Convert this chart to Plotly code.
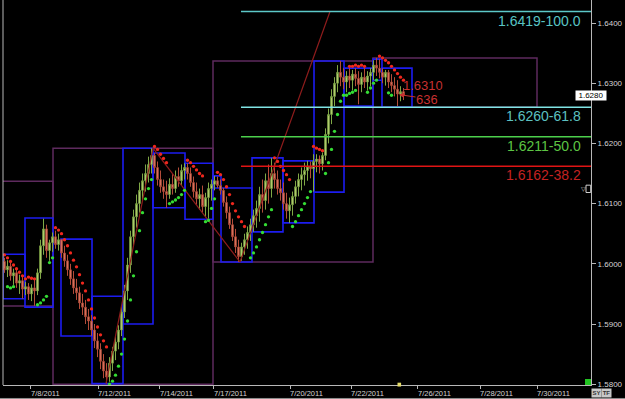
import plotly.graph_objects as go

# ---------------- data ----------------
opens = [1.6000,1.6004,1.5990,1.5996,1.5980,1.5985,1.5968,1.5972,1.5958,1.5962,
         1.5950,1.5960,1.5955,1.5985,1.6030,1.6058,1.6022,1.6035,1.6045,1.6032,
         1.6040,1.6018,1.6005,1.5990,1.5975,1.5960,1.5952,1.5935,1.5928,1.5912,
         1.5905,1.5890,1.5872,1.5858,1.5838,1.5822,1.5812,1.5835,1.5855,1.5870,
         1.5890,1.5920,1.5955,1.5998,1.6045,1.6078,1.6100,1.6122,1.6138,1.6150,
         1.6165,1.6180,1.6160,1.6140,1.6128,1.6120,1.6115,1.6132,1.6125,1.6145,
         1.6138,1.6155,1.6160,1.6150,1.6135,1.6120,1.6108,1.6115,1.6095,1.6110,
         1.6125,1.6132,1.6138,1.6130,1.6122,1.6102,1.6085,1.6065,1.6045,1.6028,
         1.6012,1.6028,1.6040,1.6052,1.6065,1.6080,1.6092,1.6115,1.6105,1.6138,
         1.6125,1.6150,1.6140,1.6125,1.6118,1.6100,1.6088,1.6098,1.6112,1.6128,
         1.6140,1.6148,1.6155,1.6162,1.6158,1.6170,1.6174,1.6166,1.6180,1.6215,
         1.6248,1.6278,1.6300,1.6318,1.6310,1.6302,1.6312,1.6305,1.6315,1.6308,
         1.6298,1.6310,1.6302,1.6312,1.6318,1.6330,1.6325,1.6318,1.6310,1.6318,
         1.6302,1.6296,1.6290,1.6282,1.6286]
highs = [1.6016,1.6010,1.6006,1.6002,1.5992,1.5990,1.5982,1.5978,1.5970,1.5968,
         1.5966,1.5975,1.5992,1.6040,1.6075,1.6065,1.6040,1.6052,1.6055,1.6050,
         1.6041,1.6030,1.6015,1.6000,1.5988,1.5975,1.5962,1.5950,1.5940,1.5925,
         1.5915,1.5900,1.5885,1.5868,1.5850,1.5835,1.5845,1.5862,1.5880,1.5898,
         1.5930,1.5965,1.6010,1.6055,1.6090,1.6115,1.6135,1.6150,1.6165,1.6178,
         1.6192,1.6184,1.6170,1.6155,1.6140,1.6138,1.6142,1.6150,1.6155,1.6160,
         1.6165,1.6167,1.6167,1.6160,1.6145,1.6135,1.6125,1.6130,1.6118,1.6135,
         1.6140,1.6146,1.6145,1.6140,1.6126,1.6112,1.6095,1.6075,1.6058,1.6040,
         1.6035,1.6050,1.6062,1.6075,1.6090,1.6105,1.6128,1.6140,1.6150,1.6165,
         1.6176,1.6168,1.6155,1.6140,1.6135,1.6118,1.6110,1.6120,1.6138,1.6150,
         1.6160,1.6168,1.6171,1.6170,1.6182,1.6182,1.6180,1.6185,1.6225,1.6258,
         1.6290,1.6310,1.6330,1.6337,1.6325,1.6320,1.6325,1.6322,1.6325,1.6320,
         1.6318,1.6325,1.6320,1.6325,1.6338,1.6342,1.6340,1.6325,1.6322,1.6322,
         1.6315,1.6310,1.6305,1.6295,1.6292]
lows = [1.5992,1.5985,1.5978,1.5972,1.5965,1.5960,1.5950,1.5942,1.5948,1.5940,
        1.5938,1.5930,1.5948,1.5975,1.6015,1.6010,1.6005,1.6020,1.6025,1.6022,
        1.6010,1.5995,1.5980,1.5965,1.5950,1.5940,1.5925,1.5915,1.5900,1.5890,
        1.5880,1.5860,1.5845,1.5825,1.5810,1.5801,1.5804,1.5822,1.5840,1.5858,
        1.5880,1.5910,1.5940,1.5985,1.6030,1.6060,1.6085,1.6105,1.6120,1.6135,
        1.6150,1.6150,1.6130,1.6118,1.6108,1.6093,1.6108,1.6115,1.6118,1.6128,
        1.6130,1.6140,1.6140,1.6128,1.6110,1.6098,1.6090,1.6085,1.6078,1.6075,
        1.6105,1.6122,1.6126,1.6115,1.6095,1.6075,1.6058,1.6038,1.6018,1.6003,
        1.6005,1.6015,1.6025,1.6038,1.6053,1.6060,1.6070,1.6085,1.6090,1.6100,
        1.6110,1.6125,1.6115,1.6105,1.6090,1.6075,1.6068,1.6080,1.6100,1.6112,
        1.6122,1.6130,1.6138,1.6142,1.6120,1.6152,1.6150,1.6155,1.6172,1.6200,
        1.6232,1.6262,1.6285,1.6295,1.6290,1.6285,1.6292,1.6288,1.6295,1.6265,
        1.6285,1.6292,1.6288,1.6295,1.6305,1.6312,1.6308,1.6300,1.6296,1.6292,
        1.6285,1.6278,1.6262,1.6270,1.6272]
closes = [1.6004,1.5990,1.5996,1.5980,1.5985,1.5968,1.5972,1.5958,1.5962,1.5950,
          1.5960,1.5955,1.5985,1.6030,1.6058,1.6022,1.6035,1.6045,1.6032,1.6040,
          1.6018,1.6005,1.5990,1.5975,1.5960,1.5952,1.5935,1.5928,1.5912,1.5905,
          1.5890,1.5872,1.5858,1.5838,1.5822,1.5812,1.5835,1.5855,1.5870,1.5890,
          1.5920,1.5955,1.5998,1.6045,1.6078,1.6100,1.6122,1.6138,1.6150,1.6165,
          1.6180,1.6160,1.6140,1.6128,1.6120,1.6115,1.6132,1.6125,1.6145,1.6138,
          1.6155,1.6160,1.6150,1.6135,1.6120,1.6108,1.6115,1.6095,1.6110,1.6125,
          1.6132,1.6138,1.6130,1.6122,1.6102,1.6085,1.6065,1.6045,1.6028,1.6012,
          1.6028,1.6040,1.6052,1.6065,1.6080,1.6092,1.6115,1.6105,1.6138,1.6125,
          1.6150,1.6140,1.6125,1.6118,1.6100,1.6088,1.6098,1.6112,1.6128,1.6140,
          1.6148,1.6155,1.6162,1.6158,1.6170,1.6174,1.6166,1.6180,1.6215,1.6248,
          1.6278,1.6300,1.6318,1.6310,1.6302,1.6312,1.6305,1.6315,1.6308,1.6298,
          1.6310,1.6302,1.6312,1.6318,1.6330,1.6325,1.6318,1.6310,1.6318,1.6302,
          1.6296,1.6290,1.6282,1.6286,1.6280]

# trailing-stop dots (bar index, price)
red_idx = [1,2,3,4,5,6,7,8, 9,10,11,
           18,19,20,21,22,23,24,25,26,27,28,29,30,31,32,33,34,35,
           51,52,53,54,55, 62,63,64,65,66,67,
           72,73,74,75,76,77,78,79,80,81, 91,92,93,94,95,96,
           104,105,106,107, 116,117,118,119,120,121,
           126,127,128,129,130,131,132,133,134]
red_val = [1.6015,1.6010,1.6004,1.5998,1.5992,1.5986,1.5980,1.5975, 1.5978,1.5976,1.5975,
           1.6060,1.6056,1.6050,1.6040,1.6030,1.6018,1.6006,1.5995,1.5982,1.5968,1.5955,
           1.5940,1.5925,1.5910,1.5895,1.5882,1.5872,1.5862,
           1.6195,1.6190,1.6182,1.6175,1.6168, 1.6172,1.6168,1.6162,1.6156,1.6150,1.6146,
           1.6152,1.6148,1.6140,1.6128,1.6115,1.6100,1.6088,1.6078,1.6070,1.6062,
           1.6176,1.6170,1.6162,1.6155,1.6148,1.6140,
           1.6195,1.6192,1.6190,1.6188, 1.6328,1.6328,1.6330,1.6328,1.6330,1.6328,
           1.6345,1.6342,1.6338,1.6334,1.6328,1.6322,1.6316,1.6310,1.6305]
green_idx = [2,3,4, 12,13,14,15, 16,17,
             36,37,38,39,40,41,42,43,44,45,46,47,48,49,50,
             56,57,58,59,60,61, 68,69,70,71,
             83,84,85,86,87,88,89,90, 97,98,99,100,101,102,103,
             108,109,110,111,112,113,114, 115,116,117,118,
             122,123,124,125, 129,130]
green_val = [1.5962,1.5960,1.5962, 1.5932,1.5935,1.5940,1.5946, 1.6002,1.6010,
             1.5800,1.5805,1.5815,1.5830,1.5850,1.5875,1.5905,1.5940,1.5980,1.6020,
             1.6055,1.6085,1.6108,1.6125,1.6140,
             1.6100,1.6103,1.6106,1.6110,1.6115,1.6122, 1.6070,1.6072,1.6092,1.6108,
             1.6010,1.6018,1.6028,1.6040,1.6052,1.6065,1.6078,1.6090,
             1.6062,1.6070,1.6080,1.6090,1.6100,1.6110,1.6120,
             1.6150,1.6168,1.6190,1.6220,1.6248,1.6270,1.6280, 1.6280,1.6283,1.6285,1.6288,
             1.6285,1.6292,1.6300,1.6305, 1.6284,1.6280]

# session range boxes (bar-index span, high, low)
blue_x0 = [0.5, 7.83, 19.83, 30.17, 40.5, 50.5, 61.17, 70.5, 73.17, 83.5, 93.83, 104.17, 114.17, 123.83, 126.83]
blue_x1 = [7.83, 17.17, 30.17, 40.5, 50.5, 61.17, 70.5, 73.17, 83.5, 93.83, 104.17, 114.17, 123.83, 126.83, 136.83]
blue_hi = [1.6016, 1.6076, 1.6041, 1.5946, 1.6192, 1.6184, 1.6167, 1.6146, 1.6126, 1.6176, 1.6171, 1.6337, 1.6325, 1.6340, 1.6325]
blue_lo = [1.5942, 1.5928, 1.5880, 1.5801, 1.5900, 1.6093, 1.6074, 1.6126, 1.6003, 1.6053, 1.6068, 1.6119, 1.6262, 1.6305, 1.6260]
# daily range boxes
day_x0 = [-0.5, 17.17, 70.5, 123.83]
day_x1 = [17.17, 70.5, 123.83, 178.5]
day_hi = [1.6137, 1.6192, 1.6337, 1.6342]
day_lo = [1.5930, 1.5800, 1.6003, 1.6260]

# zigzag swing line
zz_x = [34.83, 50.5, 79.5, 109.5]
zz_y = [1.5801, 1.6192, 1.6003, 1.6419]

# fibonacci levels
fib_start = 79.83
fib_levels = [1.6419, 1.6260, 1.6211, 1.6162]
fib_pcts = ["100.0", "61.8", "50.0", "38.2"]
fib_line_colors = ["#5cc8c8", "#80e4e4", "#4ccf4c", "#e01414"]
fib_text_colors = ["#58c4c4", "#5cc0c0", "#5cc444", "#c42222"]

# axes
tick_pos = [9.83, 32.17, 52.83, 70.83, 96.17, 116.5, 138.83, 159.5, 178.5]
tick_labels = ["7/8/2011", "7/12/2011", "7/14/2011", "7/17/2011", "7/20/2011",
               "7/22/2011", "7/26/2011", "7/28/2011", "7/30/2011"]
y_ticks = [1.5800, 1.5900, 1.6000, 1.6100, 1.6200, 1.6300, 1.6400]
last_price = 1.6280
x_range = [0.5, 196.5]
y_range = [1.57987, 1.64382]

# ---------------- figure ----------------
bar_idx = list(range(len(closes)))
fig = go.Figure()
fig.add_trace(go.Candlestick(
    x=bar_idx, open=opens, high=highs, low=lows, close=closes,
    increasing=dict(line=dict(color="#7fa846", width=1), fillcolor="#dce590"),
    decreasing=dict(line=dict(color="#b44c3a", width=1), fillcolor="#f29279"),
    whiskerwidth=0, hoverinfo="skip"))
fig.add_trace(go.Scatter(x=zz_x, y=zz_y, mode="lines",
                         line=dict(color="#8e1c1c", width=1.2), hoverinfo="skip"))
fig.add_trace(go.Scatter(x=red_idx, y=red_val, mode="markers",
                         marker=dict(color="#f0281e", size=3.3), hoverinfo="skip"))
fig.add_trace(go.Scatter(x=green_idx, y=green_val, mode="markers",
                         marker=dict(color="#34dc34", size=3.3), hoverinfo="skip"))

shapes = []
for x0, x1, hi, lo in zip(day_x0, day_x1, day_hi, day_lo):
    shapes.append(dict(type="rect", xref="x", yref="y", x0=x0, x1=x1, y0=lo, y1=hi,
                       line=dict(color="#5e2a5e", width=1.5), layer="below"))
for x0, x1, hi, lo in zip(blue_x0, blue_x1, blue_hi, blue_lo):
    shapes.append(dict(type="rect", xref="x", yref="y", x0=x0, x1=x1, y0=lo, y1=hi,
                       line=dict(color="#1c1cf0", width=1.6), layer="below"))
for lvl, col in zip(fib_levels, fib_line_colors):
    shapes.append(dict(type="line", xref="x", yref="y", x0=fib_start, x1=x_range[1],
                       y0=lvl, y1=lvl, line=dict(color=col, width=1.5)))
# left frame line
shapes.append(dict(type="line", xref="paper", yref="paper", x0=0, x1=0, y0=0, y1=1,
                   line=dict(color="#b8b8b8", width=1)))
# small markers on the axes
shapes.append(dict(type="rect", xref="paper", yref="paper", x0=0.9898, x1=1.0, y0=0.0, y1=0.0156,
                   fillcolor="#22c422", line=dict(width=0)))
shapes.append(dict(type="rect", xref="x", yref="paper", x0=132.0, x1=133.2, y0=-0.004, y1=0.006,
                   fillcolor="#e6dc6a", line=dict(width=0)))
shapes.append(dict(type="rect", xref="paper", yref="paper", x0=0.9915, x1=0.9995, y0=0.5, y1=0.519,
                   fillcolor="black", line=dict(color="#d0d0d0", width=1)))
shapes.append(dict(type="line", xref="paper", yref="paper", x0=-0.01, x1=1.06, y0=-0.035, y1=-0.035,
                   line=dict(color="#909090", width=1)))

annotations = []
for lvl, pct, col in zip(fib_levels, fib_pcts, fib_text_colors):
    annotations.append(dict(x=0.987, xref="paper", y=lvl, yref="y", xanchor="right", yanchor="top",
                            text=f"{lvl:.4f}-{pct}", showarrow=False, yshift=1,
                            font=dict(family="Liberation Sans", size=14, color=col)))
for pos, lab in zip(tick_pos, tick_labels):
    annotations.append(dict(x=pos, xref="x", y=0, yref="paper", xanchor="left", yanchor="top",
                            text=lab, showarrow=False, xshift=-2, yshift=-2,
                            font=dict(family="Liberation Sans", size=7.5, color="#d4d4d4")))
annotations.append(dict(x=1.028, xref="paper", y=last_price, yref="y", text=f"{last_price:.4f}",
                        showarrow=False, bgcolor="white", borderpad=0, width=30, height=9,
                        font=dict(family="Liberation Sans", size=8, color="black")))
annotations.append(dict(x=140.4, xref="x", y=1.62968, yref="y", text="1.6310", showarrow=False,
                        borderpad=0, height=12,
                        font=dict(family="Liberation Sans", size=13, color="#c83030")))
annotations.append(dict(x=132.5, xref="x", y=1.6281, yref="y", text="636", showarrow=True,
                        ax=28, ay=4, arrowhead=2, arrowsize=1, arrowwidth=1, arrowcolor="#c83030",
                        borderpad=0, height=12,
                        font=dict(family="Liberation Sans", size=13, color="#c83030")))
annotations.append(dict(x=0.9955, xref="paper", y=0.509, yref="paper", text="▽", showarrow=False,
                        font=dict(size=6, color="#d0d0d0")))
annotations.append(dict(x=1.0185, xref="paper", y=-0.009, yref="paper", text="<b>SY</b>", showarrow=False,
                        bgcolor="#c8c8c8", borderpad=0, width=9, height=8, yanchor="top",
                        font=dict(family="Liberation Sans", size=6, color="#333333")))
annotations.append(dict(x=1.0355, xref="paper", y=-0.009, yref="paper", text="<b>TF</b>", showarrow=False,
                        bgcolor="#c8c8c8", borderpad=0, width=9, height=8, yanchor="top",
                        font=dict(family="Liberation Sans", size=6, color="#333333")))

fig.update_layout(
    width=625, height=399, margin=dict(l=3, r=34, t=0, b=14),
    paper_bgcolor="black", plot_bgcolor="black", showlegend=False,
    shapes=shapes, annotations=annotations,
    xaxis=dict(range=x_range, showgrid=False, zeroline=False, showline=True,
               linecolor="#b8b8b8", linewidth=1, ticks="outside", ticklen=3,
               tickcolor="#b8b8b8", tickvals=tick_pos, showticklabels=False,
               rangeslider=dict(visible=False), fixedrange=True),
    yaxis=dict(range=y_range, side="right", showgrid=False, zeroline=False,
               showline=True, linecolor="#b8b8b8", linewidth=1, ticks="outside",
               ticklen=4, tickcolor="#b8b8b8", tickvals=y_ticks, tickformat=".4f",
               tickfont=dict(family="Liberation Sans", size=8, color="#d4d4d4"),
               fixedrange=True),
)
fig.write_html("out.html")
